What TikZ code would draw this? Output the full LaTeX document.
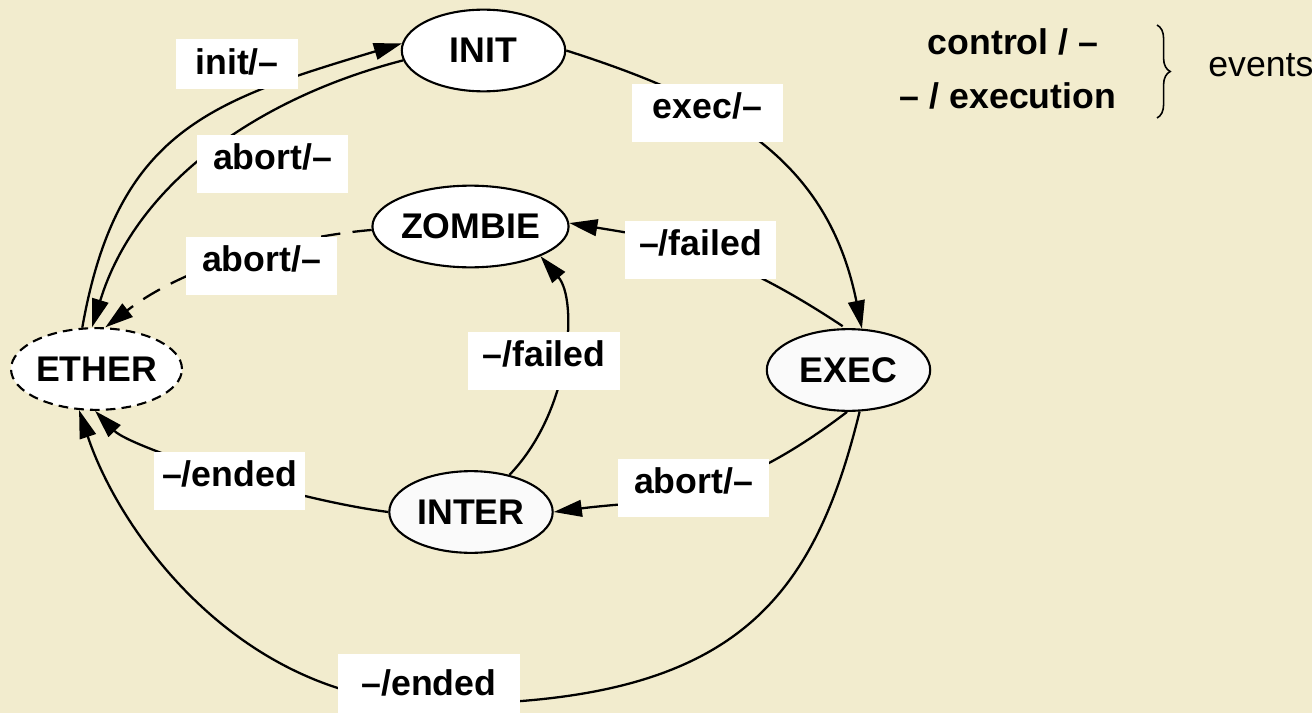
\documentclass[tikz,border=0pt]{standalone}
\usepackage{fontspec}
\setmainfont{Liberation Sans}
\usetikzlibrary{arrows.meta, shapes.geometric, decorations.pathreplacing}
\definecolor{paper}{RGB}{242,236,206}
\definecolor{softwhite}{RGB}{250,250,250}
\newcommand{\lblfont}{\fontsize{20.3}{24}\selectfont\bfseries}
\tikzset{
  state/.style={ellipse, draw, line width=1.2pt, fill=white,
    minimum width=93pt, minimum height=46.5pt, inner sep=0pt, font=\lblfont},
  ghost/.style={state, dash pattern=on 5.5pt off 3.5pt},
  trans/.style={line width=1.3pt, -{Triangle[length=16pt,width=9.5pt]}},
  lazy/.style={trans, dash pattern=on 11pt off 7pt},
  lbl/.style={fill=white, inner sep=0pt, anchor=north, align=center,
    minimum width=86.2pt, text height=19.3pt, text depth=13.6pt, font=\lblfont},
  legend/.style={inner sep=0pt, anchor=base, font=\lblfont}
}
\begin{document}
\begin{tikzpicture}[x=0.02cm, y=-0.02cm]
  % canvas
  \fill[paper] (0,0) rectangle (1312,713);
  \useasboundingbox (0,0) rectangle (1312,713);

  % states
  \node[state] (INIT) at (483.5,50.5) {INIT};
  \node[state] (ZOMBIE) at (470.5,226.5) {ZOMBIE};
  \node[state, fill=softwhite] (EXEC) at (848.5,370) {EXEC};
  \node[state, fill=softwhite] (INTER) at (471,512) {INTER};
  \node[ghost] (ETHER) at (96.5,369) {ETHER};

  % transitions
  \draw[trans] (ETHER.109) .. controls (117,131) and (210,101) .. (INIT.175);
  \draw[trans] (INIT.187) .. controls (257,98) and (136,184) .. (ETHER.96);
  \draw[trans] (INIT.0) .. controls (728,102) and (828,161) .. (EXEC.72);
  \draw[trans, shorten <=2pt] (EXEC.94) .. controls (719,244) and (653,237) .. (ZOMBIE.2);
  \draw[trans] (INTER.44) .. controls (572,410) and (578,300) .. (ZOMBIE.-23);
  \draw[trans] (EXEC.-92) .. controls (720,509) and (653,499) .. (INTER.0);
  \draw[trans] (INTER.180) .. controls (288,499) and (130,447) .. (ETHER.-92);
  \draw[trans] (EXEC.-75) .. controls (812,606) and (730,704) .. (440,704)
                          .. controls (240,704) and (119,531) .. (ETHER.-113);
  \draw[lazy] (ZOMBIE.182) .. controls (300,236) and (190,262) .. (ETHER.78);

  % transition labels
  \node[lbl, minimum width=69.2pt, text height=19.8pt, text depth=8.5pt] (lInit) at (237,39) {init/–};
  \node[lbl] (lAbortInit) at (272.5,135) {abort/–};
  \node[lbl] (lExec) at (707.5,84) {exec/–};
  \node[lbl] (lAbortZombie) at (261.5,237) {abort/–};
  \node[lbl] (lFailedExec) at (700.5,221) {–/failed};
  \node[lbl] (lFailedInter) at (544,332) {–/failed};
  \node[lbl] (lAbortExec) at (693.5,459) {abort/–};
  \node[lbl] (lEndedInter) at (229.5,452) {–/ended};
  \node[lbl, minimum width=103.2pt, text height=23.2pt, text depth=11.3pt] (lEndedExec) at (429,654) {–/ended};

  % legend
  \node[legend] (legCtl) at (1013,55) {control / –};
  \node[legend] (legExe) at (1008,109) {– / execution};
  \draw[line width=0.9pt, decorate, decoration={brace, amplitude=7.5pt}] (1157,25) -- (1157,118);
  \node[inner sep=0pt, anchor=base west, font=\fontsize{20.3}{24}\selectfont] (legEv) at (1208,77) {events};
\end{tikzpicture}
\end{document}
